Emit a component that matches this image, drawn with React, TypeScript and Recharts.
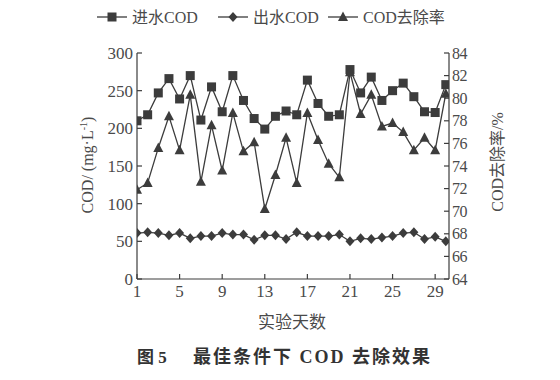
import React from 'react';
import { LineChart, Line, XAxis, YAxis } from 'recharts';

// 实验天数
const days = [1, 2, 3, 4, 5, 6, 7, 8, 9, 10, 11, 12, 13, 14, 15, 16, 17, 18, 19, 20, 21, 22, 23, 24, 25, 26, 27, 28, 29, 30];
// 进水COD (mg/L)
const influent = [210, 218, 247, 266, 239, 270, 211, 255, 222, 270, 237, 213, 199, 216, 223, 218, 264, 233, 216, 218, 278, 247, 268, 237, 250, 260, 242, 222, 221, 258];
// 出水COD (mg/L)
const effluent = [61, 62, 61, 58, 61, 54, 57, 57, 61, 59, 59, 52, 58, 58, 53, 62, 57, 57, 57, 59, 50, 54, 53, 55, 57, 61, 62, 53, 56, 50];
// COD去除率 (%)
const removal = [71.9, 72.5, 75.6, 78.4, 75.4, 80.3, 72.6, 77.6, 73.6, 78.7, 75.3, 76.1, 70.2, 73.2, 76.5, 72.5, 78.7, 76.3, 74.2, 73.0, 82.3, 78.6, 80.3, 77.5, 77.8, 77.0, 75.4, 76.5, 75.4, 80.4];

const xTicks = [1, 5, 9, 13, 17, 21, 25, 29];
const leftTicks = [0, 50, 100, 150, 200, 250, 300];
const rightTicks = [64, 66, 68, 70, 72, 74, 76, 78, 80, 82, 84];

const data = days.map((d, i) => ({ day: d, inf: influent[i], eff: effluent[i], rate: removal[i] }));

const FONT = '"Liberation Serif", "Noto Sans CJK SC", serif';
const INK = '#3c3c3c';
const TXT = '#4a4a4a';

const Square = ({ cx, cy }: any) => (
  <rect x={cx - 4.5} y={cy - 4.5} width={9} height={9} fill={INK} />
);
const Diamond = ({ cx, cy }: any) => (
  <path d={`M${cx},${cy - 5} L${cx + 4.5},${cy} L${cx},${cy + 5} L${cx - 4.5},${cy} Z`} fill={INK} />
);
const Triangle = ({ cx, cy }: any) => (
  <path d={`M${cx},${cy - 5.5} L${cx + 5},${cy + 4} L${cx - 5},${cy + 4} Z`} fill={INK} />
);

const LeftTick = ({ x, y, payload }: any) => (
  <g>
    <line x1={x + 4} x2={x + 9} y1={y} y2={y} stroke={INK} strokeWidth={1.2} />
    <text x={x} y={y} dy="0.35em" textAnchor="end" fontSize={17} fontFamily={FONT} fill={TXT}>{payload.value}</text>
  </g>
);
const RightTick = ({ x, y, payload }: any) => (
  <g>
    <line x1={x - 3} x2={x - 8} y1={y} y2={y} stroke={INK} strokeWidth={1.2} />
    <text x={x} y={y} dy="0.35em" textAnchor="start" fontSize={16} letterSpacing={-0.5} fontFamily={FONT} fill={TXT}>{payload.value}</text>
  </g>
);
const BottomTick = ({ x, y, payload }: any) => (
  <g>
    <line x1={x} x2={x} y1={y - 4} y2={y - 9} stroke={INK} strokeWidth={1.2} />
    <text x={x} y={y} dy="0.8em" textAnchor="middle" fontSize={17} fontFamily={FONT} fill={TXT}>{payload.value}</text>
  </g>
);

const LegendItem = ({ x, label, marker }: { x: number; label: string; marker: React.ReactNode }) => (
  <g>
    <line x1={x} x2={x + 30} y1={17} y2={17} stroke={INK} strokeWidth={1.3} />
    {marker}
    <text x={x + 35} y={17} dy="0.35em" fontSize={16} fontFamily={FONT} fill={TXT}>{label}</text>
  </g>
);

export default function App() {
  return (
    <div style={{ position: 'absolute', left: 0, top: 0, width: 560, height: 380, background: '#fff' }}>
      <LineChart width={560} height={380} data={data} margin={{ top: 53, right: 71, bottom: 76, left: 87 }}>
        <XAxis
          dataKey="day"
          type="number"
          domain={[1, 30.3]}
          ticks={xTicks}
          interval={0}
          allowDataOverflow
          height={25}
          tickSize={0}
          tickMargin={4}
          tickLine={false}
          tick={<BottomTick />}
          axisLine={{ stroke: INK, strokeWidth: 1.2 }}
        />
        <YAxis
          yAxisId="left"
          domain={[0, 300]}
          ticks={leftTicks}
          interval={0}
          width={50}
          tickSize={0}
          tickMargin={4}
          tickLine={false}
          tick={<LeftTick />}
          axisLine={{ stroke: INK, strokeWidth: 1.2 }}
        />
        <YAxis
          yAxisId="right"
          orientation="right"
          domain={[64, 84]}
          ticks={rightTicks}
          interval={0}
          width={40}
          tickSize={0}
          tickMargin={3}
          tickLine={false}
          tick={<RightTick />}
          axisLine={{ stroke: INK, strokeWidth: 1.2 }}
        />
        <Line yAxisId="left" dataKey="inf" stroke={INK} strokeWidth={1.3} dot={<Square />} isAnimationActive={false} />
        <Line yAxisId="left" dataKey="eff" stroke={INK} strokeWidth={1.3} dot={<Diamond />} isAnimationActive={false} />
        <Line yAxisId="right" dataKey="rate" stroke={INK} strokeWidth={1.3} dot={<Triangle />} isAnimationActive={false} />

        {/* 图例 */}
        <LegendItem x={97} label="进水COD" marker={<Square cx={112} cy={17} />} />
        <LegendItem x={218} label="出水COD" marker={<Diamond cx={233} cy={17} />} />
        <LegendItem x={328} label="COD去除率" marker={<Triangle cx={343} cy={17} />} />

        {/* 轴标题 */}
        <text x={87} y={165} transform="rotate(-90 87 165)" textAnchor="middle" dy="0.35em" fontSize={16} fontFamily={FONT} fill={TXT}>
          COD/ (mg·L<tspan dy="-6" fontSize={10}>-1</tspan><tspan dy="6">)</tspan>
        </text>
        <text x={497} y={162} transform="rotate(-90 497 162)" textAnchor="middle" dy="0.35em" fontSize={16} fontFamily={FONT} fill={TXT}>
          COD去除率/%
        </text>
        <text x={292} y={322} textAnchor="middle" dy="0.35em" fontSize={17} fontFamily={FONT} fill={TXT}>实验天数</text>
        <text x={137} y={357} dy="0.35em" fontSize={17} fontWeight="bold" fontFamily={FONT} fill="#333">图 5</text>
        <text x={193} y={357} dy="0.35em" fontSize={18} letterSpacing={2} fontWeight="bold" fontFamily={FONT} fill="#333">
          最佳条件下 COD 去除效果
        </text>
      </LineChart>
    </div>
  );
}
